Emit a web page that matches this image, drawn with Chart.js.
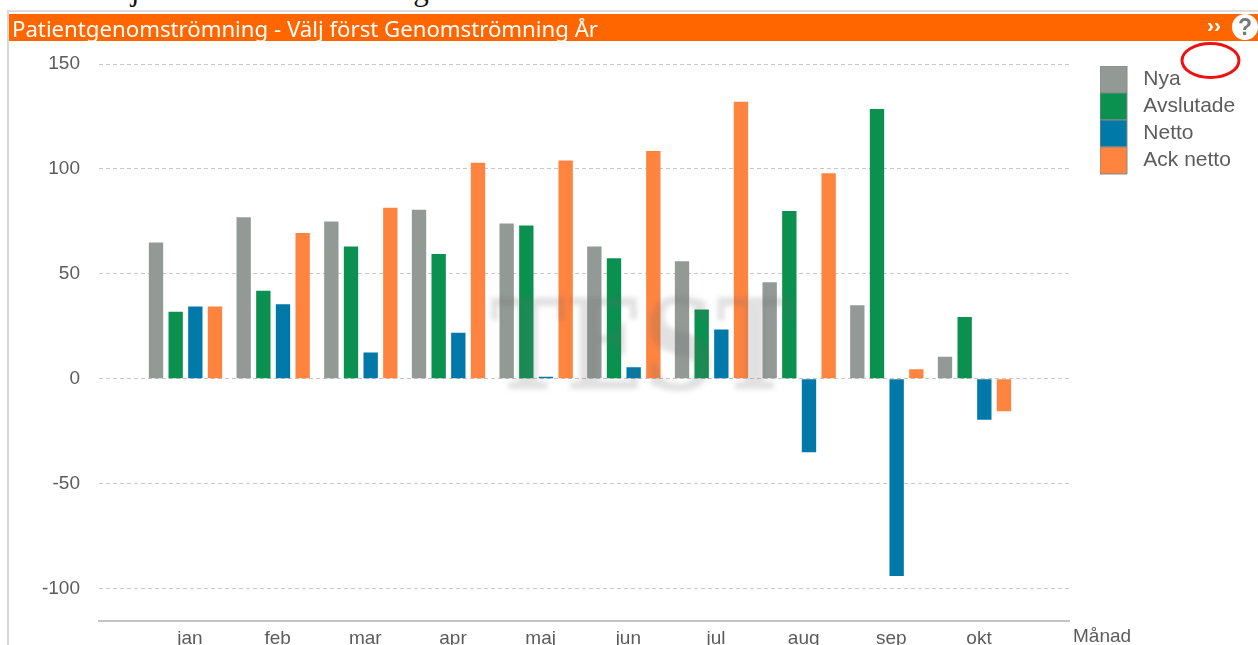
<!DOCTYPE html>
<html>
<head>
<meta charset="utf-8">
<title>Patientgenomströmning</title>
<script src="https://cdn.jsdelivr.net/npm/chart.js@4"></script>
<style>
    html, body { margin: 0; padding: 0; background: #fff; overflow: hidden; }
    #page { position: relative; width: 1258px; height: 645px; overflow: hidden; }
    #above { position: absolute; left: 86px; top: -25px; font: 31px/30px "Liberation Serif", serif; color: #111; white-space: nowrap; }
    #frame { position: absolute; left: 7px; top: 10px; width: 1251px; height: 640px; border-left: 2px solid #d8d8d8; border-top: 2px solid #dcdcdc; }
    #header { position: absolute; left: 9px; top: 14px; width: 1249px; height: 27px; background: #ff6600; color: #fff;
        font: 22.2px "Noto Sans", sans-serif; line-height: 30px; padding-left: 3px; box-sizing: border-box; white-space: nowrap; }
    #more { position: absolute; left: 1207px; top: 13px; height: 27px; line-height: 27px; color: #fff; font: bold 21px "Liberation Sans", sans-serif; }
    #help { position: absolute; left: 1232px; top: 14px; width: 26px; height: 26px; border-radius: 50%; background: #fff; color: #777;
        font: bold 23px/26px "Liberation Sans", sans-serif; text-align: center; }
    #chart { position: absolute; left: 0; top: 0; filter: blur(0.45px); }
    #mark { position: absolute; left: 0; top: 0; }
</style>
</head>
<body>
<div id="page">
    <div id="above">Välj först Genomströmning År</div>
    <div id="frame"></div>
    <canvas id="chart" width="1258" height="651"></canvas>
    <div id="header">Patientgenomströmning - Välj först Genomströmning År</div>
    <div id="more">››</div>
    <div id="help">?</div>
    <svg id="mark" width="1258" height="645"><ellipse cx="1210.5" cy="60.5" rx="28.5" ry="17" fill="none" stroke="#ee1111" stroke-width="3"/></svg>
</div>
<script>
//values
const months = ['jan', 'feb', 'mar', 'apr', 'maj', 'jun', 'jul', 'aug', 'sep', 'okt'];
const nya = [65, 77, 75, 80.5, 74, 63, 56, 46, 35, 10.5];
const avslutade = [32, 42, 63, 59.5, 73, 57.5, 33, 80, 128.5, 29.5];
const netto = [34.5, 35.5, 12.5, 22, 1, 5.5, 23.5, -35, -94, -19.5];
const ackNetto = [34.5, 69.5, 81.5, 103, 104, 108.5, 132, 98, 4.5, -15.5];

const tickFont = { family: '"Liberation Sans", sans-serif', size: 19 };
const textColor = '#5c5c5c';

function series(label, data, color) {
    return { label: label, data: data, backgroundColor: color, categoryPercentage: 0.897, barPercentage: 0.73 };
}

//legend sits apart from the plot, and TEST + Månad are drawn on top
const extras = {
    id: 'extras',
    beforeLayout(chart) {
        const legend = chart.legend;
        if (!legend.patched) {
            const fit = legend.fit;
            legend.fit = function () { fit.call(this); this.width = 189; };
            legend.patched = true;
        }
    },
    afterLayout(chart) {
        chart.legend.left = 1100;
        chart.legend.top = 66;
    },
    afterDatasetsDraw(chart) {
        const ctx = chart.ctx;
        const x = chart.scales.x;
        ctx.save();
        ctx.filter = 'blur(2.5px)';
        ctx.fillStyle = 'rgba(105,105,105,0.2)';
        ctx.font = 'bold 125px "DejaVu Serif", serif';
        ctx.textAlign = 'left';
        ctx.textBaseline = 'alphabetic';
        ctx.fillText('TEST', 490, 389, 302);
        ctx.restore();
        ctx.save();
        ctx.fillStyle = textColor;
        ctx.font = '19px "Liberation Sans", sans-serif';
        ctx.textAlign = 'left';
        ctx.textBaseline = 'middle';
        ctx.fillText('Månad', x.right + 4, 637);
        ctx.restore();
    }
};

new Chart(document.getElementById('chart').getContext('2d'), {
    type: 'bar',
    data: {
        labels: months.map((m, i) => i + 1),
        datasets: [
            series('Nya', nya, '#939a96'),
            series('Avslutade', avslutade, '#0a9150'),
            series('Netto', netto, '#0079a8'),
            series('Ack netto', ackNetto, '#ff8440')
        ]
    },
    options: {
        responsive: false,
        animation: false,
        layout: { padding: { top: 64, left: 0, right: 0, bottom: 0 } },
        plugins: {
            title: { display: false },
            tooltip: { enabled: false },
            legend: {
                position: 'right',
                align: 'start',
                labels: {
                    boxWidth: 27,
                    boxHeight: 27,
                    padding: 0,
                    color: textColor,
                    font: { family: '"Liberation Sans", sans-serif', size: 21 },
                    generateLabels(chart) {
                        return chart.data.datasets.map((d, i) => ({
                            text: ' ' + d.label,
                            fillStyle: d.backgroundColor,
                            strokeStyle: '#888',
                            fontColor: textColor,
                            lineWidth: 1,
                            datasetIndex: i,
                            hidden: false
                        }));
                    }
                }
            }
        },
        scales: {
            x: {
                type: 'linear',
                offset: false,
                min: 0.0133,
                max: 11.078,
                afterFit(scale) { scale.height = 30; },
                grid: { display: false, drawTicks: false },
                border: { display: true, color: '#c4c4c4', width: 2 },
                ticks: {
                    stepSize: 1,
                    includeBounds: false,
                    autoSkip: false,
                    maxRotation: 0,
                    labelOffset: 4.5,
                    padding: 7,
                    color: textColor,
                    font: tickFont,
                    callback: v => months[v - 1] || ''
                }
            },
            y: {
                min: -115.2,
                max: 150,
                afterFit(scale) { scale.width = 99; },
                grid: { color: '#c8c8c8', lineWidth: 1, drawTicks: false },
                border: { display: false, dash: [4, 3] },
                ticks: {
                    stepSize: 50,
                    includeBounds: false,
                    padding: 19,
                    color: textColor,
                    font: tickFont
                }
            }
        }
    },
    plugins: [extras]
});
</script>
</body>
</html>
